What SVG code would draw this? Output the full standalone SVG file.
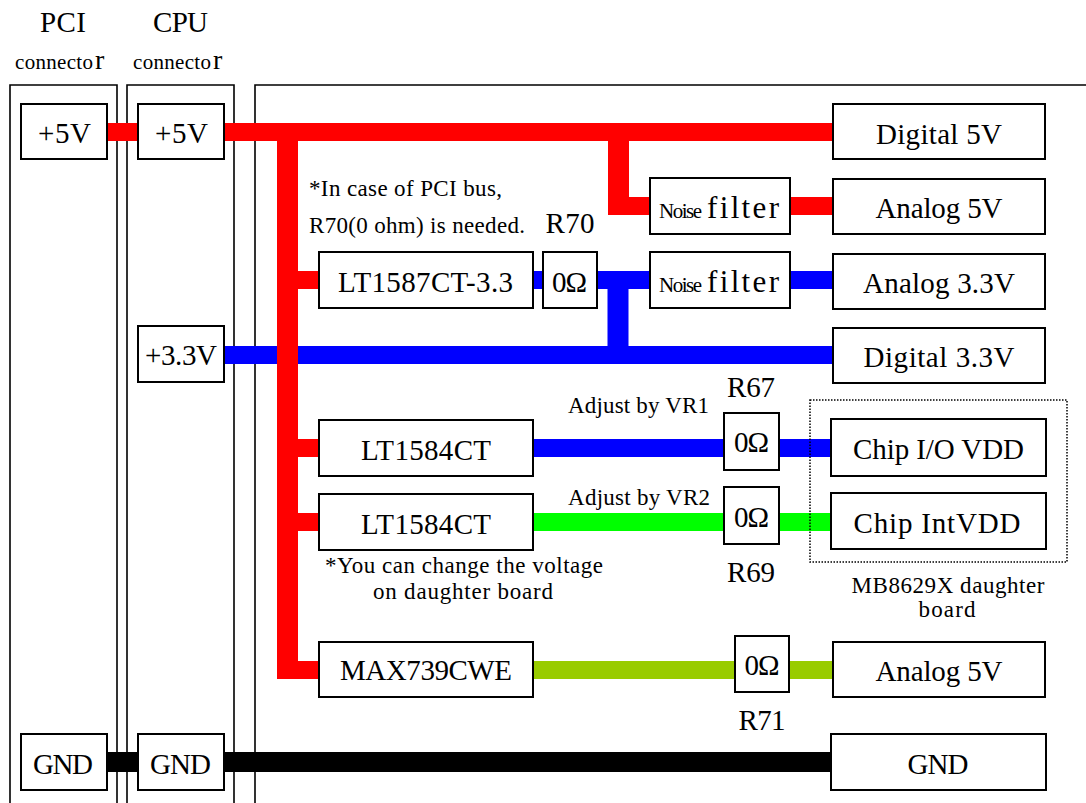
<svg xmlns="http://www.w3.org/2000/svg" width="1086" height="803" viewBox="0 0 1086 803" font-family="'Liberation Serif', 'DejaVu Serif', serif">
<style>
text{font-family:"Liberation Serif","DejaVu Serif",serif;fill:#000}
.t{font-size:29px}
.s{font-size:23px}
.m{text-anchor:middle}
.frame{fill:none;stroke:#000;stroke-width:1.6}
.box{fill:#fff;stroke:#000;stroke-width:2}
.dot{fill:none;stroke:#000;stroke-width:1.5;stroke-dasharray:1.5 1.5}
.w{fill:none;stroke-linecap:butt;stroke-linejoin:miter}
.h{stroke-width:18}
.v{stroke-width:21}
.red{stroke:#ff0000}
.blue{stroke:#0000ff}
.green{stroke:#00ff00}
.lime{stroke:#99cc00}
.blk{stroke:#000}
</style>
<rect width="1086" height="803" fill="#fff"/>

<g id="labels-top">
<text class="t" x="40" y="32" textLength="46">PCI</text>
<text class="t" x="153" y="32" textLength="55">CPU</text>
<text x="15" y="69"><tspan font-size="21" textLength="78">connecto</tspan><tspan x="95" font-size="28" textLength="15">r</tspan></text>
<text x="133" y="69"><tspan font-size="21" textLength="78">connecto</tspan><tspan x="213" font-size="28" textLength="15">r</tspan></text>
</g>

<g id="frames">
<path class="frame" d="M10 803 V85 H117 V803"/>
<path class="frame" d="M127 803 V85 H234 V803"/>
<path class="frame" d="M255 803 V85 H1090"/>
</g>

<g id="connectors">
<path class="w h blue" d="M224 355 H833"/>
<path class="w h blue" d="M533 280 H543 M597 280 H650 M790 280 H833"/>
<path class="w v blue" d="M618 271 V363"/>
<path class="w h blue" d="M533 448 H725 M779 448 H833"/>
<path class="w h green" d="M533 522 H725 M779 522 H833"/>
<path class="w h lime" d="M533 670 H736 M789 670 H833"/>
<path class="w h red" d="M107 132 H138 M224 132 H833"/>
<path class="w v red" d="M287.5 123 V679"/>
<path class="w h red" d="M298 280 H319 M298 448 H319 M298 522 H319 M298 670 H319"/>
<path class="w v red" d="M618.5 132 V215"/>
<path class="w h red" d="M629 206 H650 M790 206 H833"/>
<path class="w blk" stroke-width="20" d="M107 762 H138 M224 762 H833"/>
</g>

<g id="pci-5v"><rect class="box" x="21" y="104" width="86" height="55"/><text class="t" x="38" y="143" textLength="53">+5V</text></g>
<g id="cpu-5v"><rect class="box" x="138" y="104" width="86" height="55"/><text class="t" x="155" y="143" textLength="53">+5V</text></g>
<g id="cpu-33v"><rect class="box" x="138" y="326" width="86" height="56"/><text class="t" x="145" y="365" textLength="72">+3.3V</text></g>
<g id="pci-gnd"><rect class="box" x="21" y="734" width="86" height="56"/><text class="t" x="33" y="774" textLength="60">GND</text></g>
<g id="cpu-gnd"><rect class="box" x="138" y="734" width="86" height="56"/><text class="t" x="150" y="774" textLength="61">GND</text></g>

<g id="digital-5v"><rect class="box" x="833" y="104" width="212" height="55"/><text class="t m" x="939" y="144" textLength="126">Digital 5V</text></g>
<g id="noise-filter-1"><rect class="box" x="650" y="178" width="140" height="56"/><text y="218"><tspan x="659" font-size="21" textLength="43">Noise</tspan><tspan x="707" font-size="31" textLength="72">filter</tspan></text></g>
<g id="analog-5v"><rect class="box" x="833" y="179" width="212" height="55"/><text class="t m" x="939" y="218" textLength="127">Analog 5V</text></g>

<g id="note-pci">
<text class="s" x="309" y="196" textLength="193">*In case of PCI bus,</text>
<text class="s" x="309" y="233" textLength="216">R70(0 ohm) is needed.</text>
</g>
<g id="lt1587"><rect class="box" x="319" y="252" width="214" height="56"/><text class="t" x="338" y="292" textLength="175">LT1587CT-3.3</text></g>
<g id="r70"><text class="t m" x="570" y="233" textLength="49">R70</text><rect class="box" x="543" y="252" width="54" height="56"/><text class="t" x="552" y="292" textLength="35">0Ω</text></g>
<g id="noise-filter-2"><rect class="box" x="650" y="252" width="140" height="56"/><text y="292"><tspan x="659" font-size="21" textLength="43">Noise</tspan><tspan x="707" font-size="31" textLength="72">filter</tspan></text></g>
<g id="analog-33v"><rect class="box" x="833" y="254" width="212" height="55"/><text class="t m" x="939" y="293" textLength="152">Analog 3.3V</text></g>
<g id="digital-33v"><rect class="box" x="833" y="328" width="212" height="55"/><text class="t m" x="939" y="367" textLength="151">Digital 3.3V</text></g>

<g id="lt1584-1"><rect class="box" x="319" y="420" width="214" height="56"/><text class="t m" x="426" y="460" textLength="130">LT1584CT</text></g>
<text class="s" x="568" y="413" textLength="141">Adjust by VR1</text>
<g id="r67"><text class="t m" x="751" y="397" textLength="48">R67</text><rect class="box" x="724" y="413" width="55" height="57"/><text class="t m" x="751.5" y="452" textLength="35">0Ω</text></g>
<g id="daughter-board">
<rect class="dot" x="810" y="400" width="257" height="162"/>
<text class="s m" x="948" y="593" textLength="193">MB8629X daughter</text>
<text class="s m" x="947" y="617" textLength="57">board</text>
</g>
<g id="chip-io-vdd"><rect class="box" x="831" y="419" width="215" height="57"/><text class="t m" x="938.5" y="459" textLength="171">Chip I/O VDD</text></g>

<g id="lt1584-2"><rect class="box" x="319" y="494" width="214" height="56"/><text class="t m" x="426" y="534" textLength="130">LT1584CT</text></g>
<text class="s" x="568" y="505" textLength="142">Adjust by VR2</text>
<g id="r69"><rect class="box" x="724" y="487" width="55" height="57"/><text class="t m" x="751.5" y="527" textLength="35">0Ω</text><text class="t m" x="751" y="582" textLength="48">R69</text></g>
<g id="chip-intvdd"><rect class="box" x="831" y="493" width="215" height="56"/><text class="t m" x="937" y="533" textLength="167">Chip IntVDD</text></g>
<g id="note-daughter">
<text class="s" x="325" y="573" textLength="278">*You can change the voltage</text>
<text class="s" x="373" y="599" textLength="180">on daughter board</text>
</g>

<g id="max739"><rect class="box" x="319" y="642" width="214" height="55"/><text class="t" x="340" y="680" textLength="172">MAX739CWE</text></g>
<g id="r71"><rect class="box" x="735" y="636" width="54" height="56"/><text class="t m" x="762" y="675" textLength="35">0Ω</text><text class="t m" x="762" y="730" textLength="47">R71</text></g>
<g id="analog-5v-2"><rect class="box" x="833" y="642" width="212" height="55"/><text class="t m" x="939" y="681" textLength="127">Analog 5V</text></g>

<g id="gnd"><rect class="box" x="831" y="734" width="215" height="56"/><text class="t m" x="938" y="774" textLength="61">GND</text></g>
</svg>
